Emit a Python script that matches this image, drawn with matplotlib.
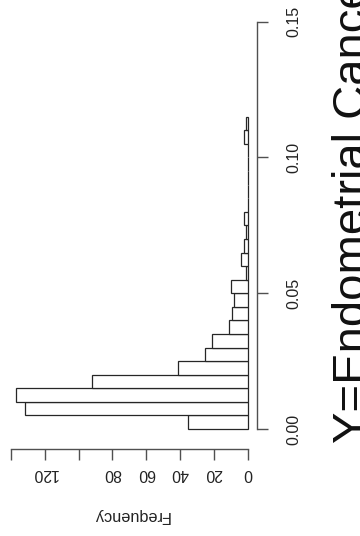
import numpy as np
import matplotlib
matplotlib.use("Agg")
import matplotlib.pyplot as plt

plt.rcParams["font.family"] = ["Liberation Sans", "DejaVu Sans"]

# histogram of the endometrial cancer score, bins of width 0.005
bin_width = 0.005
counts = [35, 132, 137, 92, 41, 25, 21, 11, 9, 8, 10, 1, 4, 2, 1, 2,
          0, 0, 0, 0, 0, 2, 1]
bin_left = np.arange(len(counts)) * bin_width

score_ticks = [0.00, 0.05, 0.10, 0.15]
score_labels = ["0.00", "0.05", "0.10", "0.15"]
freq_ticks = [0, 20, 40, 60, 80, 100, 120, 140]
freq_labels = ["0", "20", "40", "60", "80", "", "120", ""]
title = "Y=Endometrial Cancer"

W, H = 360, 536
fig = plt.figure(figsize=(W / 100, H / 100), dpi=100)
ax = fig.add_axes([11 / W, 1 - 429 / H, (247.5 - 11) / W, (429 - 21.7) / H])

bars = ax.barh(bin_left, counts, height=bin_width, align="edge",
               facecolor="white", edgecolor="#262626", linewidth=0.9)
for b in bars:
    b.set_clip_on(False)

ax.set_xlim(140, 0)
ax.set_ylim(0, 0.15)

axis_col = "#505050"
for s in ["top", "left"]:
    ax.spines[s].set_visible(False)
ax.spines["right"].set_position(("outward", 6.6))
ax.spines["right"].set_bounds(0, 0.15)
ax.spines["bottom"].set_position(("outward", 14.4))
ax.spines["bottom"].set_bounds(0, 140)
for s in ["right", "bottom"]:
    ax.spines[s].set_color(axis_col)
    ax.spines[s].set_linewidth(1.0)

ax.yaxis.tick_right()
ax.set_yticks(score_ticks)
ax.set_yticklabels(score_labels)
ax.tick_params(axis="y", direction="out", length=7.6, width=1.0,
               color=axis_col, pad=13.5, labelsize=11.5, labelcolor="#222222")
plt.setp(ax.get_yticklabels(), rotation=90, va="center", ha="left")

ax.set_xticks(freq_ticks)
ax.set_xticklabels(freq_labels)
ax.tick_params(axis="x", direction="out", length=7.9, width=1.0,
               color=axis_col, pad=4.0, labelsize=11.5, labelcolor="#222222")
plt.setp(ax.get_xticklabels(), rotation=180, ha="center", va="top")

fig.text(131 / W, 1 - 516 / H, "Frequency", rotation=180, ha="center",
         va="center", fontsize=11.7, color="#222222")

# the long x label runs past the right edge of the page
fig.text(365.7 / W, 1 - 443 / H, title, rotation=90, rotation_mode="anchor",
         ha="left", va="baseline", fontsize=34, color="#111111")

fig.savefig("out.png", dpi=100)
